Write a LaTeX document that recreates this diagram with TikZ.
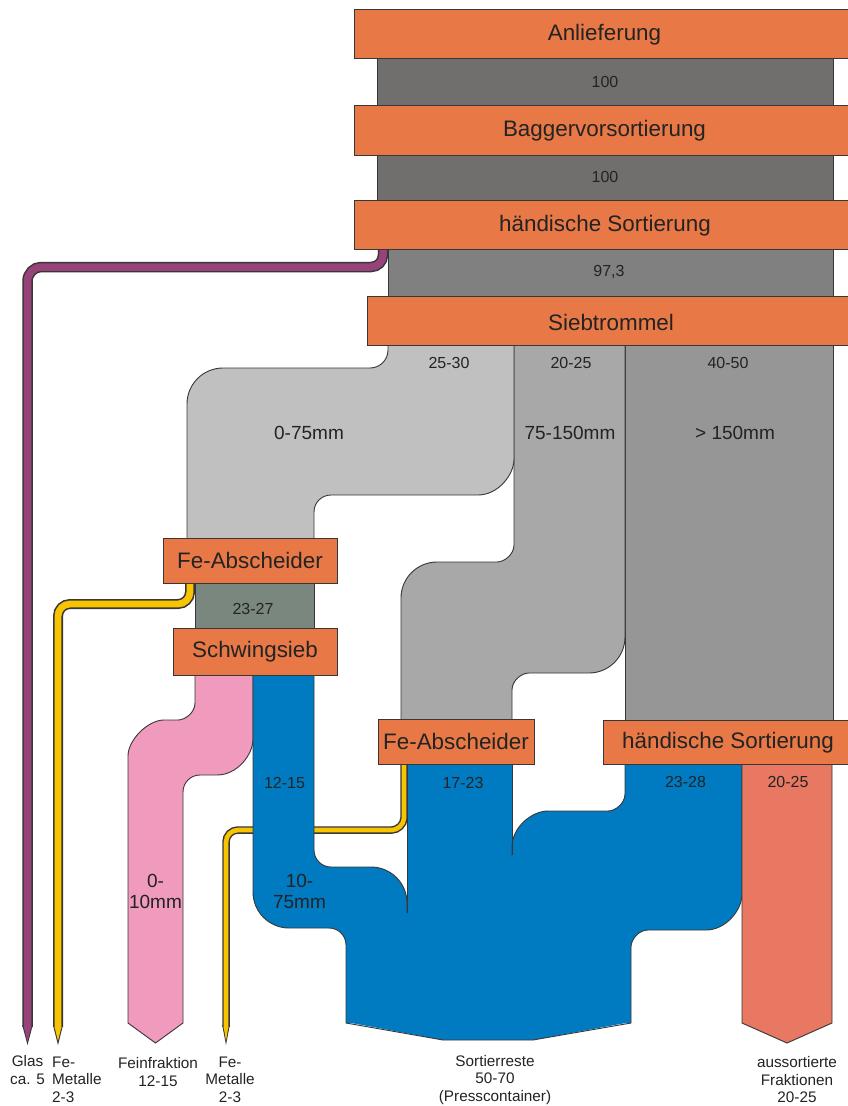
\documentclass[tikz,border=0pt]{standalone}
\usepackage{fontspec}
\setmainfont{Liberation Sans}
\definecolor{boxor}{RGB}{232,121,70}
\definecolor{edge}{RGB}{55,55,55}
\definecolor{gA}{RGB}{112,111,109}
\definecolor{gB}{RGB}{128,128,128}
\definecolor{gLG}{RGB}{192,192,192}
\definecolor{gMG}{RGB}{168,168,168}
\definecolor{gDG}{RGB}{150,150,150}
\definecolor{gGreen}{RGB}{122,135,127}
\definecolor{pinkF}{RGB}{240,154,190}
\definecolor{blueF}{RGB}{0,123,194}
\definecolor{salmonF}{RGB}{233,120,98}
\definecolor{purpleF}{RGB}{152,66,122}
\definecolor{yellowF}{RGB}{248,196,0}
\definecolor{txt}{RGB}{35,35,35}
\begin{document}
\begin{tikzpicture}[x=1pt,y=-1pt,
  boxnode/.style={draw=edge, fill=boxor, line width=1pt, inner sep=0pt, text=txt,
    font=\fontsize{22.4}{25}\selectfont},
  boxtext/.style={inner sep=0pt, text=txt, font=\fontsize{22.4}{25}\selectfont},
  numlabel/.style={inner sep=0pt, text=txt, font=\fontsize{16}{18}\selectfont},
  biglabel/.style={inner sep=0pt, text=txt, align=center, font=\fontsize{19}{21}\selectfont},
  footlabel/.style={inner sep=0pt, text=txt, align=center, font=\fontsize{15.3}{17.5}\selectfont},
  flow/.style={draw=edge, line width=0.9pt},
  edgeline/.style={draw=edge, line width=0.9pt},
]
\useasboundingbox (0,0) rectangle (847,1106);
\fill[white] (0,0) rectangle (847,1106);

% ---------- top gray bands ----------
\path[flow, fill=gA] (377,55) rectangle (833,108);
\path[flow, fill=gA] (377,150) rectangle (833,203);
\path[flow, fill=gB] (388,245) rectangle (833,300);

% ---------- purple line (Glas) ----------
\draw[edge, line width=10.5pt] (383,245) -- (383,255) .. controls (383,261.6) and (377.6,267) .. (371,267) -- (41,267) .. controls (33.9,267) and (27.5,273.3) .. (27.5,281) -- (27.5,1027);
\fill[edge] (22.2,1025) -- (27.5,1045) -- (32.8,1025) -- cycle;
\draw[purpleF, line width=7.5pt] (383,245) -- (383,255) .. controls (383,261.6) and (377.6,267) .. (371,267) -- (41,267) .. controls (33.9,267) and (27.5,273.3) .. (27.5,281) -- (27.5,1028);
\fill[purpleF] (23.8,1027) -- (27.5,1041.5) -- (31.2,1027) -- cycle;

% ---------- Siebtrommel outputs ----------
\path[flow, fill=gDG] (625,340) rectangle (833,724);
\path[flow, fill=gMG] (514,340) -- (514,545) .. controls (514,554.4) and (504.4,562) .. (497,562) -- (437,562) .. controls (417.1,562) and (401,578.1) .. (401,598) -- (401,724) -- (512,724) -- (512,690) .. controls (512,680.6) and (521.4,673) .. (529,673) -- (589,673) .. controls (608.9,673) and (625,656.9) .. (625,637) -- (625,340) -- cycle;
\path[flow, fill=gLG] (388,340) -- (388,350) .. controls (388,359.9) and (379.9,368) .. (370,368) -- (223,368) .. controls (203.1,368) and (187,384.1) .. (187,404) -- (187,542) -- (314,542) -- (314,512) .. controls (314,502.6) and (321.6,495) .. (331,495) -- (478,495) .. controls (497.9,495) and (514,475.1) .. (514,459) -- (514,340) -- cycle;

% ---------- after Fe-Abscheider 1 ----------
\path[flow, fill=gGreen] (195,580) rectangle (314,632);

% yellow line 1
\draw[edge, line width=10pt] (190,580) -- (190,592) .. controls (190,598.6) and (184.6,604) .. (178,604) -- (70,604) .. controls (63.4,604) and (58,609.4) .. (58,616) -- (58,1027);
\fill[edge] (53,1025) -- (58,1045) -- (63,1025) -- cycle;
\draw[yellowF, line width=6.8pt] (190,580) -- (190,592) .. controls (190,598.6) and (184.6,604) .. (178,604) -- (70,604) .. controls (63.4,604) and (58,609.4) .. (58,616) -- (58,1028);
\fill[yellowF] (54.6,1027) -- (58,1041) -- (61.4,1027) -- cycle;

% yellow line 2 (behind blue)
\draw[edge, line width=7.5pt] (404,760) -- (404,818) .. controls (404,824.6) and (397.4,830) .. (392,830) -- (238,830) .. controls (231.4,830) and (226,835.4) .. (226,842) -- (226,1027);
\fill[edge] (222.2,1025) -- (226,1045) -- (229.8,1025) -- cycle;
\draw[yellowF, line width=4.6pt] (404,760) -- (404,818) .. controls (404,824.6) and (397.4,830) .. (392,830) -- (238,830) .. controls (231.4,830) and (226,835.4) .. (226,842) -- (226,1028);
\fill[yellowF] (223.7,1027) -- (226,1041) -- (228.3,1027) -- cycle;

% pink (Feinfraktion)
\path[flow, fill=pinkF] (195,670) -- (195,703) .. controls (195,712.4) and (185.4,720) .. (178,720) -- (164,720) .. controls (147.9,720) and (128,739.9) .. (128,756) -- (128,1023) -- (155.5,1043) -- (183,1023) -- (183,792) .. controls (183,782.6) and (190.6,775) .. (200,775) -- (217,775) .. controls (236.9,775) and (253,755.1) .. (253,739) -- (253,670) -- cycle;

% blue (Sortierreste) fills
\fill[blueF] (253,670) -- (253,892) .. controls (253,911.9) and (269.1,928) .. (289,928) -- (329,928) .. controls (338.4,928) and (346,935.6) .. (346,945) -- (346,1023) -- (407,1023) -- (407,903) .. controls (407,883.1) and (390.9,867) .. (371,867) -- (331,867) .. controls (321.6,867) and (314,859.4) .. (314,850) -- (314,670) -- cycle;
\fill[blueF] (407,760) rectangle (512.5,1023);
\fill[blueF] (625,760) -- (625,794) .. controls (625,803.4) and (615.4,811) .. (608,811) -- (548,811) .. controls (531.9,811) and (512,827.1) .. (512,847) -- (512,1023) -- (631,1023) -- (631,947) .. controls (631,939.4) and (638.6,930) .. (648,930) -- (706,930) .. controls (725.9,930) and (742,910.1) .. (742,894) -- (742,760) -- cycle;
\fill[blueF] (346,1022) -- (443,1040) -- (533,1040) -- (631,1022) -- cycle;
% blue outlines
\draw[edgeline] (314,670) -- (314,850) .. controls (314,859.4) and (321.6,867) .. (331,867) -- (371,867) .. controls (390.9,867) and (407,883.1) .. (407,903) -- (407,913);
\draw[edgeline] (253,670) -- (253,892) .. controls (253,911.9) and (269.1,928) .. (289,928) -- (329,928) .. controls (338.4,928) and (346,935.6) .. (346,945) -- (346,1023) -- (443,1040) -- (533,1040) -- (631,1023) -- (631,947) .. controls (631,939.4) and (638.6,930) .. (648,930) -- (706,930) .. controls (725.9,930) and (742,910.1) .. (742,894) -- (742,760);
\draw[edgeline] (407,760) -- (407,913);
\draw[edgeline] (512,760) -- (512,855);
\draw[edgeline] (625,760) -- (625,794) .. controls (625,803.4) and (615.4,811) .. (608,811) -- (548,811) .. controls (531.9,811) and (512,827.1) .. (512,847) -- (512,855);

% salmon (aussortierte Fraktionen)
\path[flow, fill=salmonF] (742,760) -- (742,1023) -- (787,1043) -- (832,1023) -- (832,760) -- cycle;

% ---------- boxes ----------
\node[boxnode, minimum width=498pt, minimum height=49pt] (anl) at (603,33.5) {};
\node[boxtext] (anlT) at (604.5,35) {Anlieferung};
\node[boxnode, minimum width=498pt, minimum height=50pt] (bag) at (603,130) {};
\node[boxtext] (bagT) at (604.5,131) {Baggervorsortierung};
\node[boxnode, minimum width=498pt, minimum height=49pt] (hs1) at (603,224.5) {};
\node[boxtext] (hs1T) at (605,226) {händische Sortierung};
\node[boxnode, minimum width=485pt, minimum height=49pt] (sieb) at (609.5,320.5) {};
\node[boxtext] (siebT) at (611,322) {Siebtrommel};
\node[boxnode, minimum width=174pt, minimum height=45pt] (fe1) at (250,560.5) {Fe-Abscheider};
\node[boxnode, minimum width=164pt, minimum height=47pt] (schw) at (255,651.5) {Schwingsieb};
\node[boxnode, minimum width=156pt, minimum height=45pt] (fe2) at (456,741.5) {Fe-Abscheider};
\node[boxnode, minimum width=249pt, minimum height=44pt] (hs2) at (727.5,742) {};
\node[boxtext] (hs2T) at (728,743) {händische Sortierung};

% ---------- flow labels ----------
\node[numlabel] at (605,82) {100};
\node[numlabel] at (605,177) {100};
\node[numlabel] at (609,272) {97,3};
\node[numlabel] at (449,363) {25-30};
\node[numlabel] at (571,363) {20-25};
\node[numlabel] at (728,363) {40-50};
\node[biglabel] at (309,433) {0-75mm};
\node[biglabel] at (570,433) {75-150mm};
\node[biglabel] at (735,433) {> 150mm};
\node[numlabel] at (253,609) {23-27};
\node[numlabel] at (284.5,783) {12-15};
\node[numlabel] at (463,783) {17-23};
\node[numlabel] at (685.5,782) {23-28};
\node[numlabel] at (788,782) {20-25};
\node[biglabel] at (155.5,891.5) {0-\\10mm};
\node[biglabel] at (299.5,891.5) {10-\\75mm};

% ---------- output labels ----------
\node[footlabel] at (27.5,1070) {Glas\\ca. 5};
\node[footlabel, align=left, anchor=west] at (52,1079.5) {Fe-\\Metalle\\2-3};
\node[footlabel] at (158,1072) {Feinfraktion\\12-15};
\node[footlabel] at (230,1079.5) {Fe-\\Metalle\\2-3};
\node[footlabel] at (495,1080) {Sortierreste\\50-70\\(Presscontainer)};
\node[footlabel] at (797,1080) {aussortierte\\Fraktionen\\20-25};
\end{tikzpicture}
\end{document}
